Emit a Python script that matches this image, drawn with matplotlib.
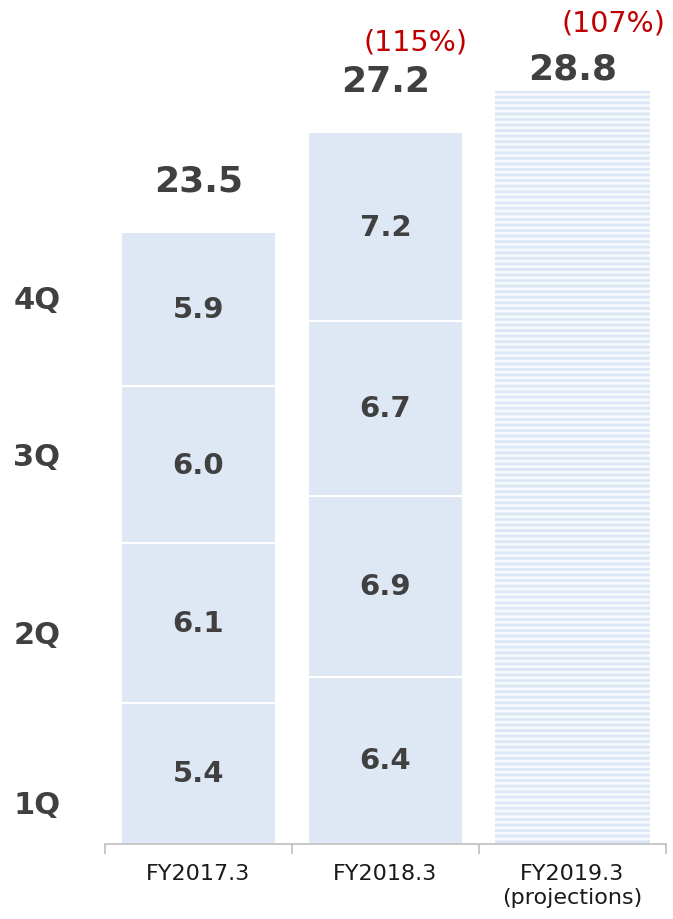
import matplotlib
matplotlib.use("Agg")
import matplotlib.pyplot as plt
import numpy as np

plt.rcParams['font.family'] = ['DejaVu Sans']
plt.rcParams['hatch.linewidth'] = 2.0

# ---- data ----
categories = ["FY2017.3", "FY2018.3", "FY2019.3\n(projections)"]
quarters = ["1Q", "2Q", "3Q", "4Q"]
q_values = {
    "FY2017.3": [5.4, 6.1, 6.0, 5.9],
    "FY2018.3": [6.4, 6.9, 6.7, 7.2],
}
totals = [23.5, 27.2, 28.8]
growth_labels = [None, "(115%)", "(107%)"]
quarter_label_y = [1.5, 8.0, 14.8, 20.8]

# ---- style ----
bar_color = "#dde8f4"
text_dark = "#404040"
red = "#c00000"
bar_w = 0.824

fig = plt.figure(figsize=(6.73, 9.2), dpi=100)
ax = fig.add_axes([0.156, 0.0815, 0.8336, 0.9185])

x = np.arange(len(categories))

# stacked quarterly bars
for i, cat in enumerate(categories[:2]):
    bottom = 0.0
    for v in q_values[cat]:
        ax.bar(x[i], v, bottom=bottom, width=bar_w, color=bar_color,
               edgecolor="white", linewidth=1.5)
        ax.text(x[i], bottom + v / 2, f"{v:.1f}", ha="center", va="center",
                fontsize=21, fontweight="bold", color=text_dark)
        bottom += v

# projection bar (striped)
ax.bar(x[2], totals[2], width=bar_w, color="#f6f9fd", edgecolor="#dce7f5",
       linewidth=0, hatch="---")

# totals & growth labels
total_offsets = [36.7, 36.7, 15.8]
growth_offsets = [None, (21.6, 65.5), (29.5, 49.0)]
tops = [sum(q_values[categories[0]]), sum(q_values[categories[1]]), totals[2]]
for i, t in enumerate(totals):
    ax.annotate(f"{t:.1f}", xy=(x[i], tops[i]), xytext=(0, total_offsets[i]),
                textcoords="offset points", ha="center", va="center",
                fontsize=26, fontweight="bold", color=text_dark)
    if growth_labels[i]:
        ax.annotate(growth_labels[i], xy=(x[i], tops[i]),
                    xytext=growth_offsets[i], textcoords="offset points",
                    ha="center", va="center", fontsize=20.5, color=red)

# quarter labels on the left
for q, yq in zip(quarters, quarter_label_y):
    ax.text(-0.99, yq, q, ha="left", va="center", fontsize=22,
            fontweight="bold", color=text_dark, transform=ax.transData,
            clip_on=False)

ax.set_xlim(-0.5, 2.5)
ax.set_ylim(0, 32.3)
ax.set_yticks([])
ax.set_xticks(x)
ax.set_xticklabels(categories, fontsize=16, color="#1a1a1a")
ax.tick_params(axis="x", which="major", length=0, pad=14)
ax.set_xticks([-0.5, 0.5, 1.5, 2.5], minor=True)
ax.tick_params(axis="x", which="minor", length=7.5, width=1.2, color="#bfbfbf")
for s in ["top", "right", "left"]:
    ax.spines[s].set_visible(False)
ax.spines["bottom"].set_color("#bfbfbf")
ax.spines["bottom"].set_linewidth(1.2)

fig.savefig("out.png", dpi=100)
